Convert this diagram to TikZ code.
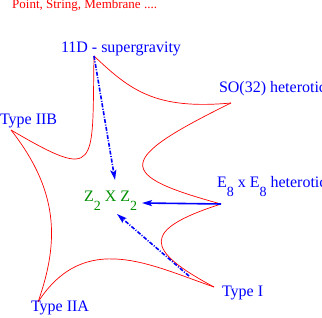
\documentclass[tikz,border=0pt]{standalone}
\usepackage{fontspec}
\setmainfont{Liberation Serif}
\usetikzlibrary{arrows.meta}
\definecolor{figgreen}{RGB}{0,144,0}
\newcommand{\lowsub}[1]{\raisebox{-9pt}{\fontsize{14}{14}\selectfont #1}}
\begin{document}
\begin{tikzpicture}[x=1pt,y=-1pt,
  lbl/.style={anchor=base west,inner sep=0pt,outer sep=0pt,text=blue,font=\fontsize{16}{16}\selectfont},
  edge/.style={red,line width=0.7pt},
  dd/.style={blue,line width=1.6pt,dash pattern=on 4pt off 1.5pt on 1pt off 1.5pt,-{Stealth[length=10pt,width=6pt,inset=2pt]}},
  sol/.style={blue,line width=1.6pt,-{Stealth[length=10pt,width=6pt,inset=2pt]}}]
\useasboundingbox (0,0) rectangle (322,318);
% star vertices
\coordinate (v11) at (94,56);
\coordinate (vSO) at (231,103);
\coordinate (vE) at (221,204);
\coordinate (vI) at (214,287);
\coordinate (vIIA) at (38,302);
\coordinate (vIIB) at (11,130);
% arrow ends
\coordinate (t1) at (115,180);
\coordinate (t2) at (142,203);
\coordinate (s3) at (189,276);
\coordinate (t3) at (117,214);
% star
\draw[edge] (v11) .. controls (130,90) and (155,110) .. (vSO);
\draw[edge] (vSO) .. controls (115,160) and (115,175) .. (vE);
\draw[edge] (vE) .. controls (140,230) and (145,250) .. (vI);
\draw[edge] (vI) .. controls (150,265) and (85,230) .. (vIIA);
\draw[edge] (vIIA) .. controls (60,240) and (58,190) .. (vIIB);
\draw[edge] (vIIB) .. controls (100,182) and (92,168) .. (v11);
% labels
\node[anchor=base west,inner sep=0pt,text=red,font=\fontsize{13}{13}\selectfont] (title) at (12,9) {Point, String, Membrane ....};
\node[lbl] (l11) at (61,53) {11D - supergravity};
\node[lbl] (lSO) at (219,93) {SO(32) heterotic};
\node[lbl] (lIIB) at (0,125) {Type IIB};
\node[lbl] (lE) at (217,188) {E\lowsub{8} x E\lowsub{8} heterotic};
\node[lbl] (lI) at (222,297) {Type I};
\node[lbl] (lIIA) at (31,312) {Type IIA};
\node[lbl,text=figgreen] (lZ) at (84,202) {Z\lowsub{2} X Z\lowsub{2}};
% arrows
\draw[dd] (v11) -- (t1);
\draw[sol] (vE) -- (t2);
\draw[dd] (s3) -- (t3);
\end{tikzpicture}
\end{document}
